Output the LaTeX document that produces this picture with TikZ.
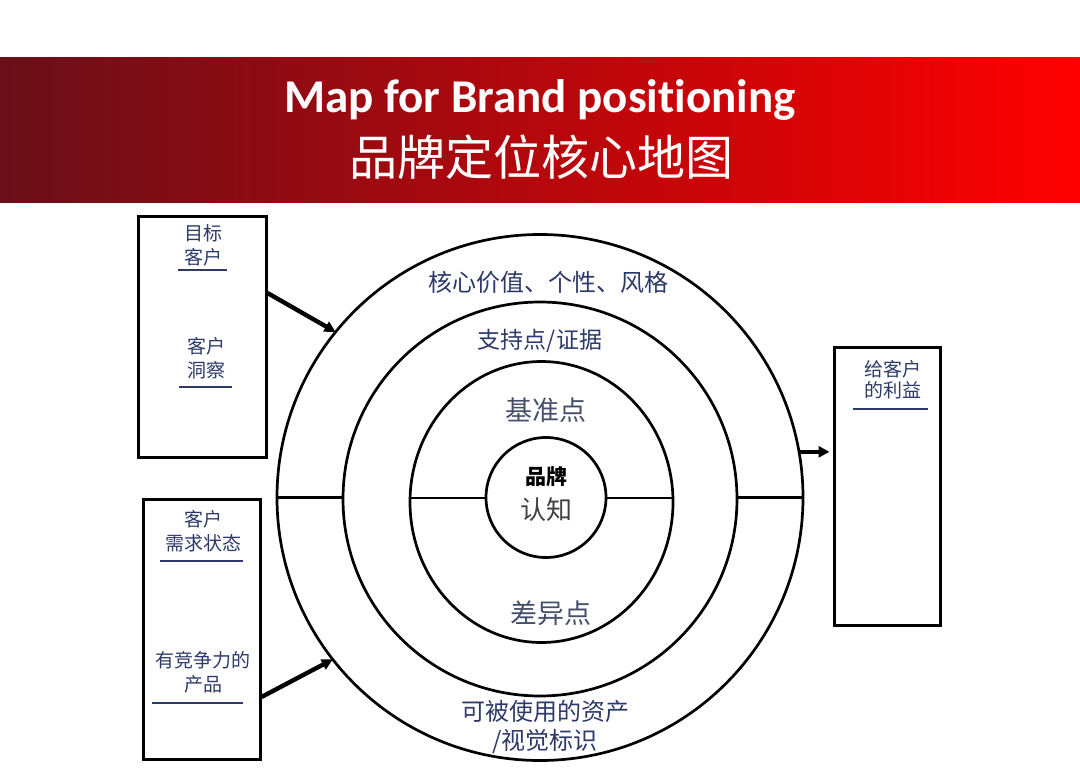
\documentclass[tikz,border=0pt]{standalone}
\usepackage{fontspec}
\setmainfont{Carlito}[Ligatures=NoCommon]
\newfontfamily\cjk{Noto Sans CJK SC}
\usetikzlibrary{arrows.meta,shapes.geometric}

\definecolor{bannerdark}{RGB}{105,15,25}
\definecolor{bannerred}{RGB}{255,0,0}
\definecolor{labelblue}{RGB}{45,58,105}
\definecolor{pointgray}{RGB}{70,80,105}

\tikzset{
	ring/.style={draw, line width=2.7pt, circle, inner sep=0pt, outer sep=0pt},
	sidebox/.style={draw, line width=3pt, inner sep=0pt},
	boxlabel/.style={font=\cjk\fontsize{19}{24}\selectfont, text=labelblue, align=center, inner sep=0pt},
	ringlabel/.style={font=\cjk\fontsize{24}{29}\selectfont, text=labelblue, align=center, inner sep=0pt},
	uline/.style={draw=labelblue, line width=2pt},
	push/.style={line width=4.4pt, -{Triangle[length=11pt,width=11pt]}},
}

\begin{document}
\begin{tikzpicture}[x=1pt, y=-1pt]
	\useasboundingbox[fill=white] (0,0) rectangle (1080,773);

	% title banner
	\shade[left color=bannerdark, right color=bannerred] (0,58) rectangle (1080,203);
	\node[text=white, font=\bfseries\fontsize{47}{47}\selectfont] (title) at (540,100) {Map for Brand positioning};
	\node[text=white, font=\cjk\fontsize{48}{48}\selectfont] (subtitle) at (541,157) {品牌定位核心地图};

	% rings
	\node[ring, minimum size=526pt] (outer) at (540,497.5) {};
	\node[ring, minimum size=394pt] (mid) at (540,499) {};
	\node[ring, ellipse, minimum width=263pt, minimum height=281pt] (core) at (541.5,502) {};
	\node[ring, minimum size=120pt] (brand) at (546,497.5) {};
	\draw[line width=3pt] (outer.west) -- (outer.west -| mid.west);
	\draw[line width=3pt] (outer.east) -- (outer.east -| mid.east);
	\draw[line width=2pt] (core.west |- brand.west) -- (brand.west);
	\draw[line width=2pt] (brand.east) -- (core.east |- brand.east);

	% ring labels
	\node[ringlabel] (values) at (548,282) {核心价值、个性、风格};
	\node[ringlabel, font=\cjk\fontsize{23}{29}\selectfont] (support) at (540,341) {支持点/证据};
	\node[ringlabel, text=pointgray, font=\cjk\fontsize{27}{27}\selectfont] (bench) at (546,410) {基准点};
	\node[ringlabel, text=black, font=\cjk\bfseries\fontsize{21}{21}\selectfont] (brandtop) at (546,477) {品牌};
	\node[ringlabel, text=black!75, font=\cjk\fontsize{26}{26}\selectfont] (brandbot) at (546,510) {认知};
	\node[ringlabel, text=pointgray, font=\cjk\fontsize{27}{27}\selectfont] (diff) at (551,613) {差异点};
	\node[ringlabel] (assets) at (545,727) {可被使用的资产\\/视觉标识};

	% side boxes
	\node[sidebox, minimum width=128pt, minimum height=240pt] (target) at (202,337) {};
	\node[sidebox, minimum width=117pt, minimum height=260pt] (need) at (201.5,629) {};
	\node[sidebox, minimum width=106pt, minimum height=278pt] (benefit) at (887,486) {};

	\node[boxlabel] (t1) at (203,245) {目标\\客户};
	\draw[uline] (178,270) -- (227,270);
	\node[boxlabel] (t2) at (206,358) {客户\\洞察};
	\draw[uline] (179,387) -- (232,387);
	\node[boxlabel] (n1) at (203,531) {客户\\需求状态};
	\draw[uline] (160,561) -- (243,561);
	\node[boxlabel] (n2) at (203,672) {有竞争力的\\产品};
	\draw[uline] (152,703) -- (243,703);
	\node[boxlabel, font=\cjk\fontsize{19}{21}\selectfont] (b1) at (893,380) {给客户\\的利益};
	\draw[uline] (853,409) -- (928,409);

	% arrows
	\draw[push] ([yshift=44pt]target.east) -- (outer.141);
	\draw[push] ([yshift=-68pt]need.east) -- (outer.218);
	\draw[push, shorten >=3pt] (outer.10.7) -- (outer.10.7 -| benefit.west);
\end{tikzpicture}
\end{document}
